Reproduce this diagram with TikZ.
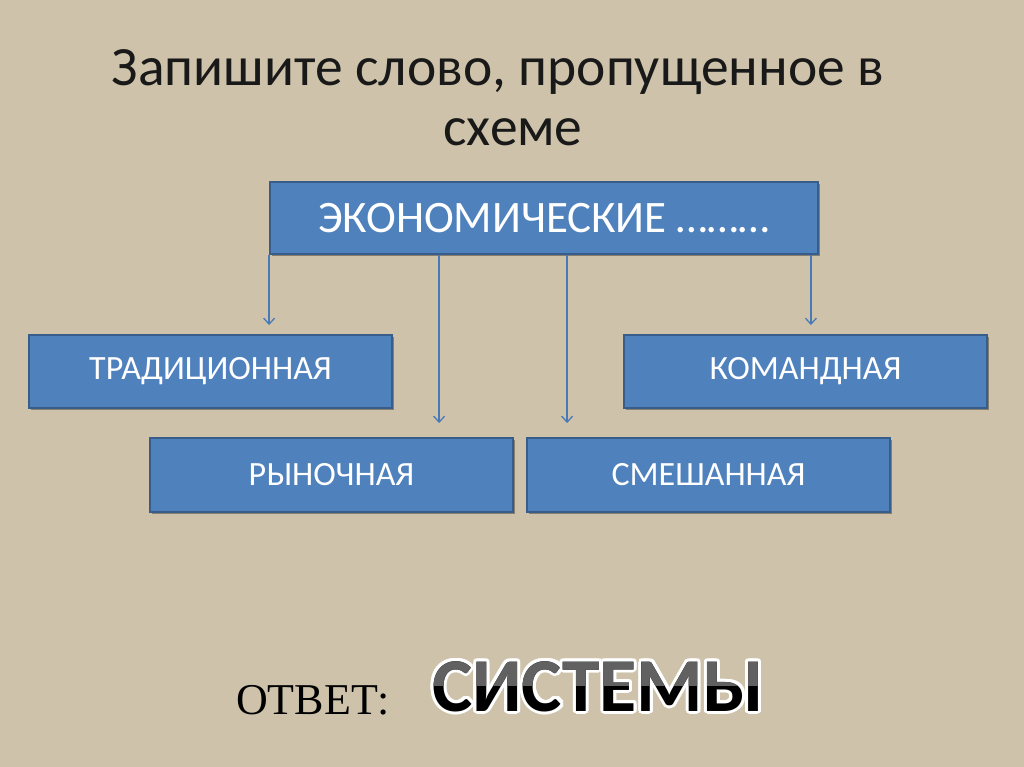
\documentclass[tikz,border=0pt]{standalone}
\usepackage{fontspec}
\setmainfont{Carlito}
\newfontfamily\timesf{Liberation Serif}
\usetikzlibrary{arrows.meta,calc,shadows}
\definecolor{bg}{RGB}{206,195,170}
\definecolor{boxfill}{RGB}{79,129,189}
\definecolor{boxline}{RGB}{56,93,138}
\definecolor{arrcol}{RGB}{74,122,182}
\definecolor{ink}{RGB}{25,25,25}
\begin{document}
\begin{tikzpicture}[x=1pt,y=-1pt,
  box/.style={draw=boxline,line width=1.8pt,fill=boxfill,text=white,inner sep=0pt,
    minimum width=363pt,minimum height=73pt,font=\fontsize{34}{38}\selectfont,
    drop shadow={shadow xshift=2pt,shadow yshift=-2pt,opacity=0.35,fill=black}},
  arr/.style={draw=arrcol,line width=1.3pt,
    -{Straight Barb[length=6pt,width=11pt,line width=1.3pt]}},
  title/.style={anchor=base,text=ink,inner sep=0pt,font=\fontsize{55.5}{60}\selectfont},
  answer/.style={anchor=base west,inner sep=0pt,font=\fontsize{76}{76}\selectfont\bfseries},
]
\fill[bg] (0,0) rectangle (1024,767);
\useasboundingbox (0,0) rectangle (1024,767);

% title
\node[title] (t1) at (498,86) {Запишите слово, пропущенное в};
\node[title] (t2) at (513,146) {схеме};

% boxes
\node[box,minimum width=548pt,minimum height=72pt,font=\fontsize{45}{50}\selectfont] (top) at (544,218) {ЭКОНОМИЧЕСКИЕ ………};
\node[box] (trad) at (210.5,371.5) {ТРАДИЦИОННАЯ};
\node[box] (kom) at (805.5,371.5) {КОМАНДНАЯ};
\node[box,minimum height=74pt] (ryn) at (331.5,475) {РЫНОЧНАЯ};
\node[box,minimum height=74pt] (smesh) at (708.5,475) {СМЕШАННАЯ};

% connectors
\coordinate (a1) at (top.south west);
\coordinate (a2) at ($(top.south west)+(170,0)$);
\coordinate (a3) at ($(top.south west)+(298,0)$);
\coordinate (a4) at ($(top.south east)+(-8,0)$);
\draw[arr] (a1) -- ($(a1 |- trad.north)+(0,-9)$);
\draw[arr] (a2) -- ($(a2 |- ryn.north)+(0,-14)$);
\draw[arr] (a3) -- ($(a3 |- smesh.north)+(0,-14)$);
\draw[arr] (a4) -- ($(a4 |- kom.north)+(0,-9)$);

% answer
\node[anchor=base west,inner sep=0pt,font=\timesf\fontsize{44}{44}\selectfont,text=black] (otv) at (236,714) {ОТВЕТ:};
\foreach \a in {0,22.5,...,337.5}{
  \node[answer,text=white] (o\a) at ($(432,711)+(\a:3)$) {СИСТЕМЫ};
}
\node[answer,text=black] (sys) at (432,711) {СИСТЕМЫ};
\begin{scope}
  \clip (400,640) rectangle (800,685);
  \node[answer,text=black!62] (sysg) at (432,711) {СИСТЕМЫ};
\end{scope}
\end{tikzpicture}
\end{document}
